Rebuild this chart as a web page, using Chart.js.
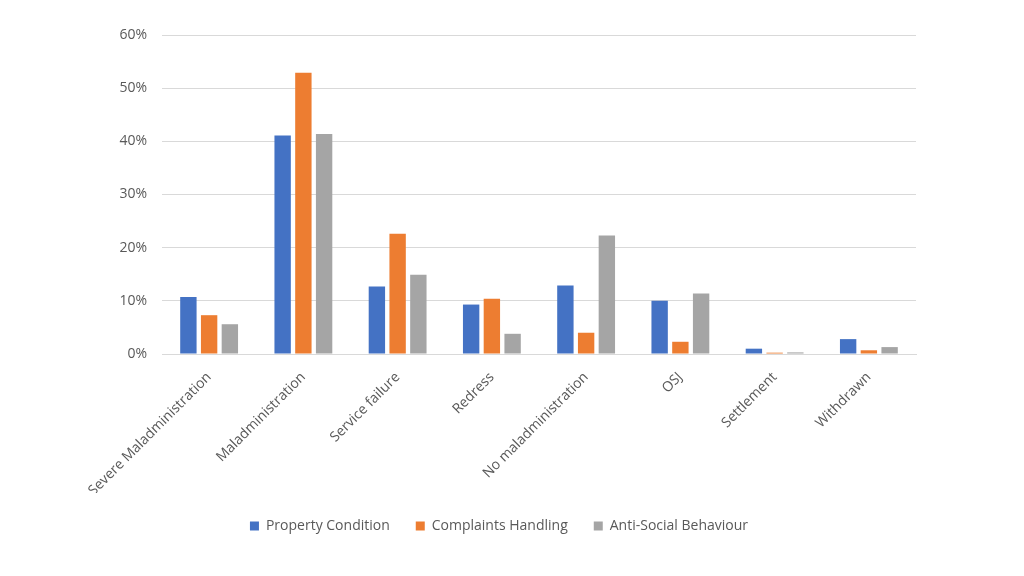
<!DOCTYPE html>
<html>
<head>
<meta charset="utf-8">
<script src="https://cdn.jsdelivr.net/npm/chart.js@4"></script>
<style>
  html, body { margin: 0; padding: 0; background: #fff; }
  #wrap { width: 1024px; height: 576px; }
</style>
</head>
<body>
<div id="wrap"><canvas id="chart"></canvas></div>
<script>
const categories = ['Severe Maladministration', 'Maladministration', 'Service failure', 'Redress',
    'No maladministration', 'OSJ', 'Settlement', 'Withdrawn'];
const propertyCondition = [0.107, 0.411, 0.127, 0.093, 0.129, 0.100, 0.010, 0.028];
const complaintsHandling = [0.073, 0.529, 0.226, 0.104, 0.040, 0.023, 0.0025, 0.007];
const antiSocialBehaviour = [0.056, 0.414, 0.149, 0.038, 0.223, 0.114, 0.003, 0.013];

const textColor = '#595959';
const gridColor = '#d9d9d9';
const fontFamily = '"Open Sans", sans-serif';

const makeSet = (label, data, color) => ({
    label: label,
    data: data,
    backgroundColor: color,
    borderWidth: 0,
    categoryPercentage: 0.66,
    barPercentage: 0.79
});

const ctx = document.getElementById('chart').getContext('2d');
new Chart(ctx, {
    type: 'bar',
    data: {
        labels: categories,
        datasets: [
            makeSet('Property Condition', propertyCondition, '#4472C4'),
            makeSet('Complaints Handling', complaintsHandling, '#ED7D31'),
            makeSet('Anti-Social Behaviour', antiSocialBehaviour, '#A5A5A5')
        ]
    },
    options: {
        responsive: true,
        maintainAspectRatio: false,
        animation: false,
        layout: {
            padding: { left: 82, right: 108, top: 35, bottom: 33 }
        },
        scales: {
            x: {
                grid: { display: false, drawTicks: false },
                border: { color: gridColor },
                ticks: {
                    color: textColor,
                    font: { family: fontFamily, size: 14 },
                    minRotation: 45,
                    maxRotation: 45,
                    padding: 15
                },
                // rotated labels may run into the legend's blank space
                afterFit: scale => { scale.height = 139; }
            },
            y: {
                min: 0,
                max: 0.6,
                grid: { color: gridColor, drawTicks: false },
                border: { display: false },
                ticks: {
                    stepSize: 0.1,
                    color: textColor,
                    font: { family: fontFamily, size: 14 },
                    padding: 15,
                    callback: v => Math.round(v * 100) + '%'
                },
                afterFit: scale => { scale.width = 80; }
            }
        },
        plugins: {
            legend: {
                position: 'bottom',
                labels: {
                    color: textColor,
                    font: { family: fontFamily, size: 14 },
                    boxWidth: 9,
                    boxHeight: 9,
                    padding: 26
                }
            },
            tooltip: { enabled: false }
        }
    }
});
</script>
</body>
</html>
